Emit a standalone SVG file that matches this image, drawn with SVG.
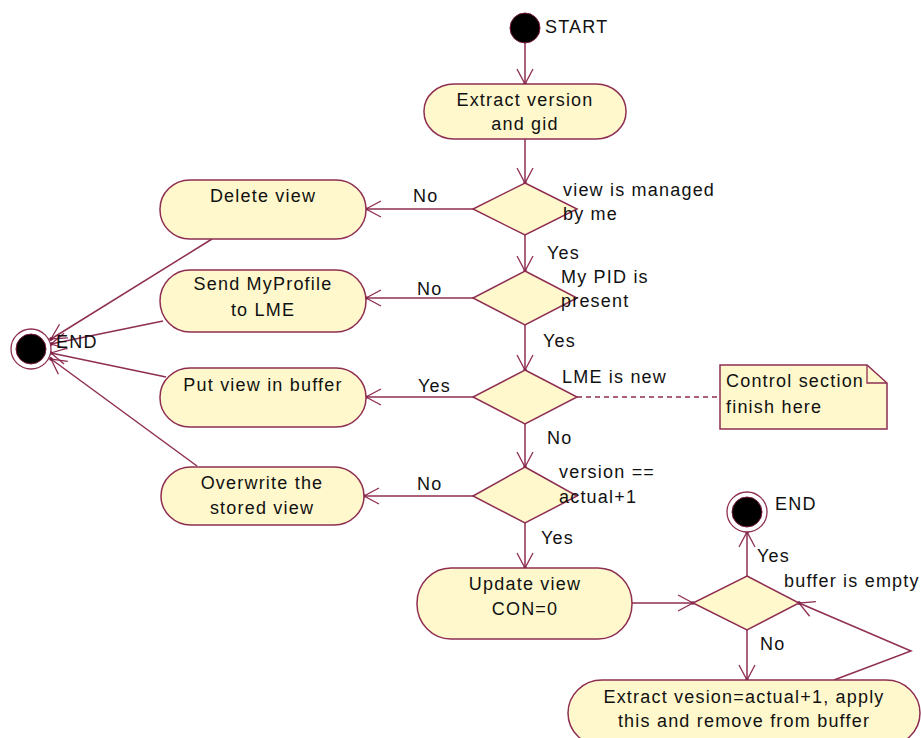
<svg xmlns="http://www.w3.org/2000/svg" width="921" height="738" viewBox="0 0 921 738">
  <style>
    text { font-family: "Liberation Sans", Arial, sans-serif; font-size: 18px; letter-spacing: 1.2px; fill: #111; }
    .mid { text-anchor: middle; }
    .act { fill: #FFF8CC; stroke: #8E2E52; stroke-width: 1.5; }
    .dec { fill: #FFF8CC; stroke: #8E2E52; stroke-width: 1.5; }
    .note { fill: #FFF8CC; stroke: #8E2E52; stroke-width: 1.5; }
    .flow { fill: none; stroke: #8E2E52; stroke-width: 1.5; marker-end: url(#open); }
    .anchor { fill: none; stroke: #8E2E52; stroke-width: 1.3; stroke-dasharray: 5 4; }
  </style>
  <defs>
    <marker id="open" markerUnits="userSpaceOnUse" markerWidth="24" markerHeight="24" viewBox="-20 -12 24 24" refX="0" refY="0" orient="auto" overflow="visible">
      <path d="M-15,-8 L0,0 L-15,8" fill="none" stroke="#8E2E52" stroke-width="1.3"/>
      <circle cx="0" cy="0" r="1.8" fill="#7A1A40"/>
    </marker>
  </defs>
  <rect width="921" height="738" fill="#FFFFFF"/>

  <!-- connectors -->
  <g id="connectors">
    <path class="flow" d="M525,43 L525,84"/>
    <path class="flow" d="M525,139 L525,183"/>
    <path class="flow" d="M473,209 L366,209"/>
    <path class="flow" d="M525,235 L525,271"/>
    <path class="flow" d="M473,298 L366,298"/>
    <path class="flow" d="M525,325 L525,370"/>
    <path class="flow" d="M473,397 L366,397"/>
    <path class="anchor" d="M577,397 L720,397"/>
    <path class="flow" d="M525,424 L525,467"/>
    <path class="flow" d="M473,496 L364,496"/>
    <path class="flow" d="M525,523 L525,568"/>
    <path class="flow" d="M632,603 L693,603"/>
    <path class="flow" d="M747,576 L747,532"/>
    <path class="flow" d="M747,630 L747,680"/>
    <path class="flow" d="M834,680 L911,651 L799,603"/>
    <path class="flow" d="M212,239 L51,339"/>
    <path class="flow" d="M163,321 L51,344"/>
    <path class="flow" d="M166,377 L51,353"/>
    <path class="flow" d="M197,466 L51,359"/>
  </g>

  <!-- start / end states -->
  <g id="start">
    <circle cx="525" cy="28" r="15" fill="#000" stroke="#7A1A40" stroke-width="1"/>
    <text x="545" y="33">START</text>
  </g>
  <g id="end-left">
    <circle cx="31" cy="349" r="20" fill="#FFF" stroke="#8E2E52" stroke-width="1.3"/>
    <circle cx="31" cy="349" r="15" fill="#000" stroke="#7A1A40" stroke-width="1"/>
    <text x="56" y="348">END</text>
  </g>
  <g id="end-right">
    <circle cx="747" cy="512" r="20" fill="#FFF" stroke="#8E2E52" stroke-width="1.3"/>
    <circle cx="747" cy="512" r="15" fill="#000" stroke="#7A1A40" stroke-width="1"/>
    <text x="775" y="510">END</text>
  </g>

  <!-- activities -->
  <g id="extract-version">
    <rect class="act" x="424" y="84" width="202" height="55" rx="30" ry="27"/>
    <text class="mid" x="525" y="106">Extract version</text>
    <text class="mid" x="525" y="130">and gid</text>
  </g>
  <g id="delete-view">
    <rect class="act" x="160" y="180" width="206" height="59" rx="30" ry="29"/>
    <text class="mid" x="263" y="202">Delete view</text>
  </g>
  <g id="send-profile">
    <rect class="act" x="160" y="270" width="206" height="62" rx="30" ry="31"/>
    <text class="mid" x="263" y="290">Send MyProfile</text>
    <text class="mid" x="263" y="316">to LME</text>
  </g>
  <g id="put-buffer">
    <rect class="act" x="160" y="368" width="206" height="59" rx="30" ry="29"/>
    <text class="mid" x="263" y="391">Put view in buffer</text>
  </g>
  <g id="overwrite">
    <rect class="act" x="161" y="467" width="203" height="58" rx="30" ry="29"/>
    <text class="mid" x="262" y="489">Overwrite the</text>
    <text class="mid" x="262" y="514">stored view</text>
  </g>
  <g id="update-view">
    <rect class="act" x="417" y="568" width="215" height="71" rx="34" ry="35"/>
    <text class="mid" x="525" y="590">Update view</text>
    <text class="mid" x="525" y="615">CON=0</text>
  </g>
  <g id="apply-buffer">
    <rect class="act" x="568" y="680" width="352" height="66" rx="34" ry="33"/>
    <text class="mid" x="744" y="703">Extract vesion=actual+1, apply</text>
    <text class="mid" x="744" y="727">this and remove from buffer</text>
  </g>

  <!-- decisions -->
  <g id="managed">
    <polygon class="dec" points="525,183 577,209 525,235 473,209"/>
    <text x="563" y="196">view is managed</text>
    <text x="563" y="220">by me</text>
    <text x="413" y="202">No</text>
    <text x="547" y="259">Yes</text>
  </g>
  <g id="pid-present">
    <polygon class="dec" points="525,271 577,298 525,325 473,298"/>
    <text x="561" y="283">My PID is</text>
    <text x="561" y="307">present</text>
    <text x="417" y="295">No</text>
    <text x="543" y="347">Yes</text>
  </g>
  <g id="lme-new">
    <polygon class="dec" points="525,370 577,397 525,424 473,397"/>
    <text x="562" y="383">LME is new</text>
    <text x="418" y="392">Yes</text>
    <text x="547" y="444">No</text>
  </g>
  <g id="version-check">
    <polygon class="dec" points="525,467 577,496 525,523 473,496"/>
    <text x="559" y="478">version ==</text>
    <text x="559" y="503">actual+1</text>
    <text x="417" y="490">No</text>
    <text x="541" y="544">Yes</text>
  </g>
  <g id="buffer-empty">
    <polygon class="dec" points="747,576 799,603 747,630 693,603"/>
    <text x="784" y="587">buffer is empty</text>
    <text x="757" y="562">Yes</text>
    <text x="760" y="650">No</text>
  </g>

  <!-- note -->
  <g id="control-note">
    <path class="note" d="M720,365 L867,365 L887,383 L887,429 L720,429 Z"/>
    <path d="M867,365 L867,383 L887,383" fill="none" stroke="#8E2E52" stroke-width="1.3"/>
    <text x="726" y="387">Control section</text>
    <text x="726" y="413">finish here</text>
  </g>
</svg>
